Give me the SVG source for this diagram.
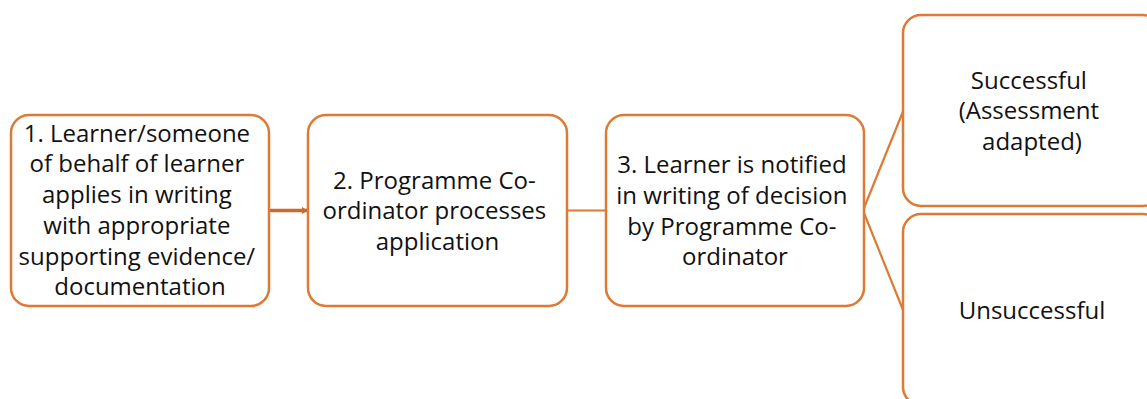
<svg xmlns="http://www.w3.org/2000/svg" width="1147" height="399" viewBox="0 0 1147 399">
  <style>
    .box { fill: #ffffff; stroke: #DD7A35; stroke-width: 2.5; }
    .lbl { font-family: "Open Sans", "Liberation Sans", sans-serif; font-size: 24px; fill: #111111; text-anchor: middle; }
    .conn { stroke: #DD7A35; stroke-width: 2.2; fill: none; }
    .conn-main { stroke: #CC6A2C; stroke-width: 3.5; fill: none; }
  </style>
  <defs>
    <marker id="head" markerWidth="6" markerHeight="7" refX="5" refY="3.5" orient="auto" markerUnits="userSpaceOnUse">
      <path d="M0,0 L6,3.5 L0,7 Z" fill="#CC6A2C"/>
    </marker>
  </defs>
  <rect width="1147" height="399" fill="#ffffff"/>

  <g id="connectors">
    <line class="conn-main" x1="269" y1="210.5" x2="307" y2="210.5" marker-end="url(#head)"/>
    <line class="conn" x1="567" y1="210.5" x2="606" y2="210.5"/>
    <line class="conn" x1="863" y1="210.5" x2="903" y2="111.5"/>
    <line class="conn" x1="863" y1="210.5" x2="903" y2="310"/>
  </g>

  <g id="node-apply">
    <rect class="box" x="11" y="115" width="258" height="191" rx="18"/>
    <text class="lbl">
      <tspan x="140" y="141.7">1. Learner/someone</tspan>
      <tspan x="140" y="172.4">of behalf of learner</tspan>
      <tspan x="140" y="203.1">applies in writing</tspan>
      <tspan x="140" y="233.8">with appropriate</tspan>
      <tspan x="140" y="264.5">supporting evidence/</tspan>
      <tspan x="140" y="295.2">documentation</tspan>
    </text>
  </g>

  <g id="node-process">
    <rect class="box" x="308" y="115" width="259" height="191" rx="18"/>
    <text class="lbl">
      <tspan x="437.5" y="188.5">2. Programme Co-</tspan>
      <tspan x="437.5" y="219.2">ordinator processes</tspan>
      <tspan x="437.5" y="249.9">application</tspan>
    </text>
  </g>

  <g id="node-notify">
    <rect class="box" x="606" y="115" width="258" height="191" rx="18"/>
    <text class="lbl">
      <tspan x="735" y="173.2">3. Learner is notified</tspan>
      <tspan x="735" y="203.9">in writing of decision</tspan>
      <tspan x="735" y="234.6">by Programme Co-</tspan>
      <tspan x="735" y="265.3">ordinator</tspan>
    </text>
  </g>

  <g id="node-successful">
    <rect class="box" x="903" y="15" width="258" height="191" rx="18"/>
    <text class="lbl">
      <tspan x="1032" y="88.5">Successful</tspan>
      <tspan x="1032" y="119.2">(Assessment</tspan>
      <tspan x="1032" y="149.9">adapted)</tspan>
    </text>
  </g>

  <g id="node-unsuccessful">
    <rect class="box" x="903" y="214" width="258" height="191" rx="18"/>
    <text class="lbl">
      <tspan x="1032" y="318.7">Unsuccessful</tspan>
    </text>
  </g>
</svg>
